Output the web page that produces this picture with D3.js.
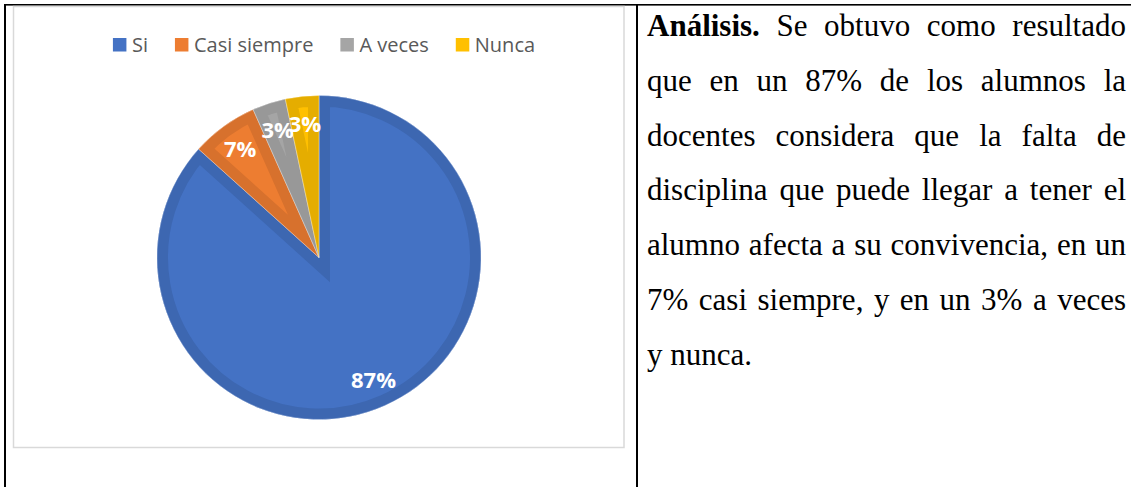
<!DOCTYPE html>
<html>
<head>
<meta charset="utf-8">
<script src="https://cdn.jsdelivr.net/npm/d3@7"></script>
<style>
  html, body { margin: 0; padding: 0; background: #fff; }
  svg { display: block; }
</style>
</head>
<body>
<div id="chart"></div>
<script>
// chart data (counts, labels shown as %)
var categories = ["Si", "Casi siempre", "A veces", "Nunca"];
var counts = [26, 2, 1, 1];
var fillColors = ["#4472c4", "#ed7d31", "#a5a5a5", "#ffc000"];
var edgeColors = ["#3d67b1", "#d7712d", "#989898", "#e5ad00"];

// text of the right-hand cell, one entry per printed line
var boldLead = "Análisis.";
var analysisLines = [
  "Análisis. Se obtuvo como resultado",
  "que en un 87% de los alumnos la",
  "docentes considera que la falta de",
  "disciplina que puede llegar a tener el",
  "alumno afecta a su convivencia, en un",
  "7% casi siempre, y en un 3% a veces",
  "y nunca."
];

var width = 1131, height = 487;

var svg = d3.select("#chart").append("svg")
    .attr("width", width)
    .attr("height", height);

svg.append("rect").attr("width", width).attr("height", height).attr("fill", "#fff");

// table borders
svg.append("rect").attr("x", 4).attr("y", 4).attr("width", width - 4).attr("height", 1.6).attr("fill", "#000");
svg.append("rect").attr("x", 4).attr("y", 4).attr("width", 2).attr("height", height - 4).attr("fill", "#000");
svg.append("rect").attr("x", 636).attr("y", 4).attr("width", 2).attr("height", height - 4).attr("fill", "#000");

// chart area frame
var box = {x: 13.5, y: 6.5, w: 610.5, h: 441};
svg.append("rect")
    .attr("x", box.x).attr("y", box.y)
    .attr("width", box.w).attr("height", box.h)
    .attr("fill", "#fff")
    .attr("stroke", "#d9d9d9")
    .attr("stroke-width", 1.5);

// legend
var legend = svg.append("g")
    .attr("font-family", "'Open Sans', 'DejaVu Sans', sans-serif")
    .attr("font-size", 20)
    .attr("fill", "#595959");

var sq = 13.5, sqGap = 5.5, itemGap = 27, legendCenter = 324, legendBase = 51.5;
var items = legend.selectAll("g.item")
    .data(categories)
  .enter().append("g")
    .attr("class", "item");

items.append("rect")
    .attr("width", sq).attr("height", sq)
    .attr("y", legendBase - sq)
    .attr("fill", function(d, i) { return fillColors[i]; });

items.append("text")
    .attr("x", sq + sqGap)
    .attr("y", legendBase)
    .text(function(d) { return d; });

var widths = [];
items.each(function() { widths.push(d3.select(this).select("text").node().getComputedTextLength()); });
var total = d3.sum(widths) + categories.length * (sq + sqGap) + (categories.length - 1) * itemGap;
var cursor = legendCenter - total / 2;
items.attr("transform", function(d, i) {
  var x = cursor;
  cursor += sq + sqGap + widths[i] + itemGap;
  return "translate(" + x + ",0)";
});

// pie
var cx = 319, cy = 257.5, radius = 162, band = 11;
var pie = d3.pie().sort(null).value(function(d) { return d; });
var arcs = pie(counts);
var sum = d3.sum(counts);
var arc = d3.arc().innerRadius(0).outerRadius(radius);
var labelArc = d3.arc().innerRadius(134).outerRadius(134);
var fmt = d3.format(".0%");

var pieG = svg.append("g").attr("transform", "translate(" + cx + "," + cy + ")");

var defs = svg.append("defs");
arcs.forEach(function(d, i) {
  defs.append("clipPath").attr("id", "slice" + i)
    .append("path").attr("d", arc(d));
});

var slices = pieG.selectAll("g.slice")
    .data(arcs)
  .enter().append("g")
    .attr("class", "slice");

slices.append("path")
    .attr("d", arc)
    .attr("fill", function(d, i) { return fillColors[i]; });

// darker bevel band along every edge of the slice
slices.append("path")
    .attr("d", arc)
    .attr("fill", "none")
    .attr("stroke", function(d, i) { return edgeColors[i]; })
    .attr("stroke-width", band * 2)
    .attr("stroke-linejoin", "miter")
    .attr("clip-path", function(d, i) { return "url(#slice" + i + ")"; });

slices.append("path")
    .attr("d", arc)
    .attr("fill", "none")
    .attr("stroke", "#ffffff")
    .attr("stroke-opacity", 0.45)
    .attr("stroke-width", 0.8);

pieG.selectAll("text.pct")
    .data(arcs)
  .enter().append("text")
    .attr("class", "pct")
    .attr("transform", function(d) { return "translate(" + labelArc.centroid(d) + ")"; })
    .attr("text-anchor", "middle")
    .attr("dy", "0.36em")
    .attr("font-family", "'Open Sans', 'DejaVu Sans', sans-serif")
    .attr("font-weight", "bold")
    .attr("font-size", 22)
    .attr("fill", "#fff")
    .text(function(d) { return fmt(d.value / sum); });

// justified paragraph on the right
var textLeft = 647, textRight = 1126, firstBase = 36, lineGap = 54.75, fontSize = 31;
var para = svg.append("g")
    .attr("font-family", "'Liberation Serif', 'Times New Roman', serif")
    .attr("font-size", fontSize)
    .attr("fill", "#000");

analysisLines.forEach(function(line, li) {
  var words = line.split(" ");
  var y = firstBase + li * lineGap;
  var nodes = words.map(function(w, k) {
    return para.append("text")
      .attr("y", y)
      .attr("font-weight", (li === 0 && k === 0 && w === boldLead) ? "bold" : null)
      .text(w);
  });
  var ws = nodes.map(function(n) { return n.node().getComputedTextLength(); });
  var last = li === analysisLines.length - 1;
  var gap = (last || words.length < 2) ? fontSize * 0.25 : (textRight - textLeft - d3.sum(ws)) / (words.length - 1);
  var x = textLeft;
  nodes.forEach(function(n, k) {
    n.attr("x", x);
    x += ws[k] + gap;
  });
});
</script>
</body>
</html>
